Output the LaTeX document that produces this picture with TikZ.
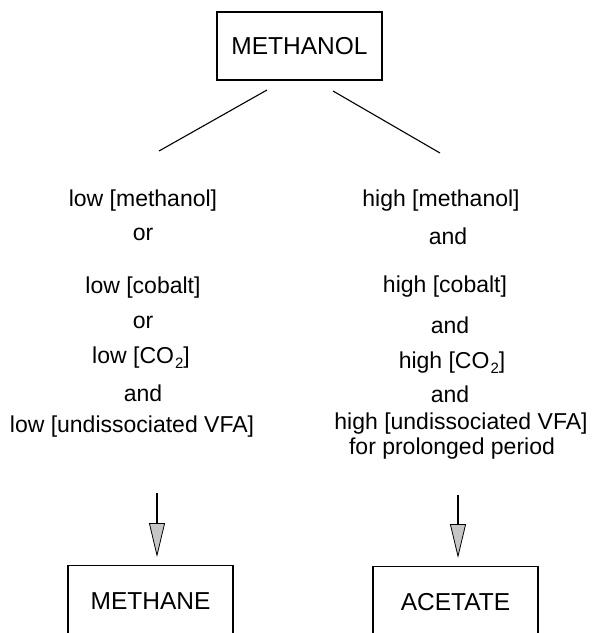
\documentclass[tikz,border=0pt]{standalone}
\usepackage{fontspec}
\setmainfont{Liberation Sans}
\usetikzlibrary{arrows.meta}
\newcommand{\subtwo}{\kern1pt{\fontsize{15}{15}\selectfont\raisebox{-5pt}{2}}}
\begin{document}
\begin{tikzpicture}[x=1pt,y=-1pt,
  cond/.style={anchor=base, inner sep=0pt, font=\fontsize{23}{27}\selectfont},
  box/.style={draw, line width=1.1pt, minimum width=165pt, inner sep=0pt,
              font=\fontsize{24.5}{28}\selectfont},
  link/.style={line width=1.1pt},
  arr/.style={line width=1.1pt, shorten >=8pt,
              -{Triangle[width=16pt,length=34pt,fill=gray!45,line width=0.8pt]}}]
\useasboundingbox (0,0) rectangle (592,633);
\clip (0,0) rectangle (592,633);

% top box
\node[box, minimum height=68pt] (methanol) at (299.5,46) {METHANOL};

% branches
\coordinate (bl1) at (267,90);
\coordinate (bl2) at (159,151);
\coordinate (br1) at (333,91);
\coordinate (br2) at (440,153);
\draw[link] (bl1) -- (bl2);
\draw[link] (br1) -- (br2);

% left conditions
\node[cond] (L1) at (143,206) {low [methanol]};
\node[cond] (L2) at (143,240) {or};
\node[cond] (L3) at (143,293) {low [cobalt]};
\node[cond] (L4) at (143,328) {or};
\node[cond] (L5) at (141,363) {low [CO\subtwo]};
\node[cond] (L6) at (143,401) {and};
\node[cond] (L7) at (132,432) {low [undissociated VFA]};

% right conditions
\node[cond] (R1) at (441,206) {high [methanol]};
\node[cond] (R2) at (448,244) {and};
\node[cond] (R3) at (445,292) {high [cobalt]};
\node[cond] (R4) at (450,333) {and};
\node[cond] (R5) at (452,368) {high [CO\subtwo]};
\node[cond] (R6) at (450,402) {and};
\node[cond] (R7) at (461,429) {high [undissociated VFA]};
\node[cond] (R8) at (452,454) {for prolonged period};

% bottom boxes
\node[box, minimum height=80pt, text height=17.5pt, text depth=10pt, anchor=north]
  (methane) at (150.5,565) {METHANE};
\node[box, minimum height=80pt, text height=17.5pt, text depth=10pt, anchor=north]
  (acetate) at (455.5,566) {ACETATE};

% arrows
\coordinate (la) at (157,493);
\coordinate (ra) at (458,495);
\draw[arr] (la) -- (la |- methane.north);
\draw[arr] (ra) -- (ra |- acetate.north);
\end{tikzpicture}
\end{document}
